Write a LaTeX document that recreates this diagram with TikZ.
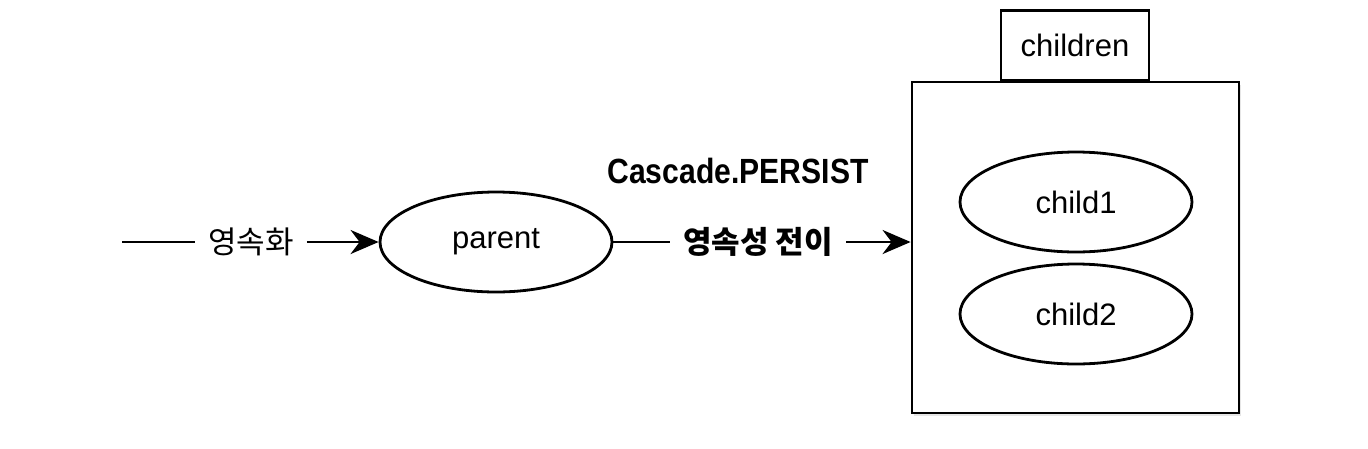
\documentclass[tikz,border=0pt]{standalone}
\usepackage{fontspec}
\setmainfont{Liberation Sans}
\newfontfamily\kr{Noto Sans CJK KR}
\newfontfamily\cond{Liberation Sans}[FakeStretch=0.86]
\usetikzlibrary{arrows.meta,shapes.geometric,shadows}
\begin{document}
\begin{tikzpicture}[x=1pt,y=-1pt,
  lw/.style={line width=2.8pt},
  oval/.style={draw,lw,ellipse,minimum width=232pt,minimum height=100pt,inner sep=0pt,font=\fontsize{31}{34}\selectfont},
  lbl/.style={inner ysep=2pt,inner xsep=13pt,font=\kr\fontsize{31}{34}\selectfont},
  arr/.style={lw,-{Stealth[length=28pt,width=24pt,inset=9pt]}}]
\useasboundingbox (0,0) rectangle (1368,448);
\node[draw,lw,fill=white,minimum width=327pt,minimum height=331pt,inner sep=0pt,
  drop shadow={opacity=0.2,shadow xshift=2pt,shadow yshift=-3pt}] (box) at (1075.5,247.5) {};
\node[draw,lw,minimum width=148pt,minimum height=70pt,inner sep=0pt,anchor=south,font=\fontsize{31}{34}\selectfont] (tab) at (1075,82) {children};
\node[oval] (c1) at (1076,202) {child1};
\node[oval] (c2) at (1076,314) {child2};
\node[oval] (parent) at (496,242) {parent};
\coordinate (start) at (122,242);
\node[lbl] (l1) at (251,242) {영속화};
\node[lbl,font=\kr\fontsize{31}{34}\selectfont\bfseries] (l2) at (758,242) {영속성 전이};
\node[anchor=base,inner sep=0pt,font=\cond\fontsize{35}{38}\selectfont\bfseries] (casc) at (738,183) {Cascade.PERSIST};
\draw[lw] (start) -- (l1.west);
\draw[arr] (l1.east) -- (parent.west);
\draw[lw] (parent.east) -- (l2.west);
\draw[arr] (l2.east) -- (box.west |- l2.east);
\end{tikzpicture}
\end{document}
